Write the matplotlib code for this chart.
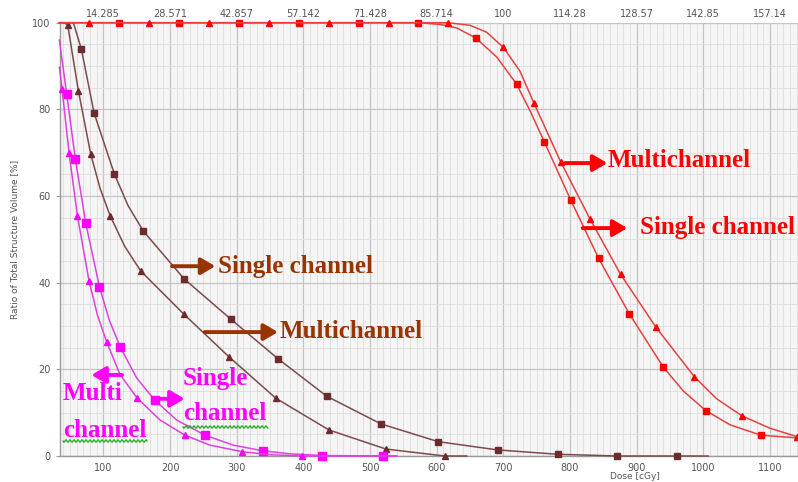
import numpy as np
import matplotlib
matplotlib.use("Agg")
import matplotlib.pyplot as plt
from matplotlib.ticker import MultipleLocator

# ---------------- data ----------------
# Red, Single channel (squares)
red_sq_x = [34, 123.5, 213.5, 303.5, 393.5, 483.5, 572, 605, 630, 658.5, 690, 720, 740, 761.5, 801, 843, 889,
            940, 970, 1003.5, 1040, 1086.5, 1140]
red_sq_y = [100, 100, 100, 100, 100, 100, 100, 99.6, 98.8, 96.5, 92.1, 85.8, 79.7, 72.5, 59.1, 45.6, 32.8,
            20.5, 15.0, 10.5, 7.2, 4.8, 4.2]
red_sq_marks = [1, 2, 3, 4, 5, 6, 9, 11, 13, 14, 15, 16, 17, 19, 21]

# Red, Multichannel (triangles)
red_tri_x = [34, 79, 168.5, 258.5, 348.5, 438.5, 528.5, 617.5, 650, 675, 700, 725, 746, 786, 830, 876,
             928.5, 986.5, 1020, 1057.5, 1100, 1140]
red_tri_y = [100, 100, 100, 100, 100, 100, 100, 100, 99.4, 97.8, 94.3, 88.8, 81.4, 67.9, 54.7, 41.9,
             29.8, 18.3, 13.2, 9.3, 6.4, 4.5]
red_tri_marks = [1, 2, 3, 4, 5, 6, 7, 10, 12, 13, 14, 15, 16, 17, 19, 21]

# Brown, Single channel (squares)
br_sq_x = [34, 55, 67, 86, 116.5, 137, 160, 221, 291, 361.5, 435, 516.5, 602.5, 691.5, 781.5, 870.5, 960, 1007]
br_sq_y = [100, 100, 93.9, 79.2, 65.1, 57.8, 51.9, 40.9, 31.6, 22.5, 13.8, 7.4, 3.3, 1.4, 0.4, 0.0, 0.0, 0.0]
br_sq_marks = [2, 3, 4, 6, 7, 8, 9, 10, 11, 12, 13, 14, 15, 16]

# Brown, Multichannel (triangles)
br_tri_x = [34, 41, 46.5, 62.5, 81, 95, 110, 132, 156, 221, 289, 359, 438.5, 524, 612, 645]
br_tri_y = [100, 100, 99.5, 84.3, 69.7, 61.8, 55.5, 48.4, 42.7, 32.7, 22.8, 13.3, 6.0, 1.6, 0.0, 0.0]
br_tri_marks = [2, 3, 4, 6, 8, 9, 10, 11, 12, 13, 14]

# Magenta, Single channel (squares)
mg_sq_x = [34, 45, 58, 73.5, 94, 109, 125.5, 150, 177, 210, 252.5, 295, 339, 380, 428.5, 519, 540]
mg_sq_y = [96, 83.5, 68.5, 53.8, 39.1, 31.3, 25.1, 18.0, 12.9, 8.3, 4.8, 2.5, 1.2, 0.5, 0.1, 0.0, 0.0]
mg_sq_marks = [1, 2, 3, 4, 6, 8, 10, 12, 14, 15]

# Magenta, Multichannel (triangles)
mg_tri_x = [34, 38, 48.5, 61, 78.5, 91, 105, 125, 150, 185, 222.5, 260, 308, 350, 398, 540]
mg_tri_y = [89.7, 84.8, 70, 55.5, 40.4, 32.6, 26.3, 18.8, 13.5, 8.3, 4.8, 2.5, 1.0, 0.3, 0.0, 0.0]
mg_tri_marks = [1, 2, 3, 4, 6, 8, 10, 12, 14]

x_ticks = [100, 200, 300, 400, 500, 600, 700, 800, 900, 1000, 1100]
top_labels = ["14.285", "28.571", "42.857", "57.142", "71.428", "85.714", "100",
              "114.28", "128.57", "142.85", "157.14"]
y_ticks = [0, 20, 40, 60, 80, 100]

# ---------------- figure ----------------
W, H = 798, 482
fig = plt.figure(figsize=(W / 100, H / 100), dpi=100)
ax = fig.add_axes([59.5 / W, 26 / H, 1 - 59.5 / W, (456 - 22.7) / H])
ax.set_facecolor("#f5f5f5")
ax.set_xlim(34.2, 1142)
ax.set_ylim(0, 100)

ax.xaxis.set_minor_locator(MultipleLocator(10))
ax.yaxis.set_minor_locator(MultipleLocator(5))
ax.set_xticks(x_ticks)
ax.set_yticks(y_ticks)
ax.grid(which="major", color="#c4c4c4", lw=0.9)
ax.grid(which="minor", color="#dedede", lw=0.6)
ax.set_axisbelow(True)

for s in ["top", "right"]:
    ax.spines[s].set_visible(False)
for s in ["left", "bottom"]:
    ax.spines[s].set_color("#9a9a9a")
    ax.spines[s].set_linewidth(1.0)

ax.tick_params(axis="both", which="major", colors="#9a9a9a", labelcolor="#555555",
               labelsize=7, length=3)
ax.tick_params(axis="x", which="major", length=0, pad=5)
ax.tick_params(which="minor", length=0)

fig.text(15 / W, 1 - 239 / H, "Ratio of Total Structure Volume [%]", fontsize=6.5,
         color="#555555", rotation=90, ha="center", va="center")
fig.text(635 / W, 1 - 476.5 / H, "Dose [cGy]", fontsize=6.5, color="#555555",
         ha="center", va="center")

# top axis
ax2 = ax.twiny()
ax2.set_xlim(ax.get_xlim())
ax2.set_xticks(x_ticks)
ax2.set_xticklabels(top_labels)
ax2.tick_params(axis="x", length=0, labelsize=7, labelcolor="#555555", pad=3)
for s in ax2.spines.values():
    s.set_visible(False)

# ---------------- curves ----------------
def draw(xs, ys, marks, lc, mc, marker, ms, z):
    ax.plot(xs, ys, color=lc, lw=1.1, marker=marker, markevery=marks, ms=ms,
            mfc=mc, mec=mc, clip_on=False, zorder=z)

draw(br_sq_x, br_sq_y, br_sq_marks, "#7d4a4a", "#6a2c2c", "s", 5.0, 3)
draw(br_tri_x, br_tri_y, br_tri_marks, "#7d4a4a", "#6a2c2c", "^", 4.2, 3)
draw(mg_sq_x, mg_sq_y, mg_sq_marks, "#e040e0", "#ff00ff", "s", 5.5, 4)
draw(mg_tri_x, mg_tri_y, mg_tri_marks, "#e040e0", "#ff00ff", "^", 4.5, 4)
draw(red_sq_x, red_sq_y, red_sq_marks, "#e84040", "#ff0000", "s", 5.0, 5)
draw(red_tri_x, red_tri_y, red_tri_marks, "#e84040", "#ff0000", "^", 4.5, 5)

# ---------------- annotations ----------------
tfont = dict(family="Liberation Serif", weight="bold", size=18, va="center", ha="left")

def arrow(x0, y0, x1, y1, c):
    ax.annotate("", xy=(x1, y1), xytext=(x0, y0),
                arrowprops=dict(arrowstyle="-|>,head_length=0.65,head_width=0.38",
                                lw=2.8, color=c, shrinkA=0, shrinkB=0, mutation_scale=13),
                zorder=6)

RED = "#ff0000"
BRN = "#993300"
MAG = "#ff00ff"

ax.text(857, 68.3, "Multichannel", color=RED, **tfont)
arrow(792, 67.6, 856, 67.6, RED)
ax.text(905, 52.8, "Single channel", color=RED, **tfont)
arrow(819, 52.6, 886, 52.6, RED)

ax.text(272, 43.8, "Single channel", color=BRN, **tfont)
arrow(203, 43.8, 268, 43.8, BRN)
ax.text(365, 28.8, "Multichannel", color=BRN, **tfont)
arrow(252, 28.6, 362, 28.6, BRN)

ax.text(39.5, 14.5, "Multi", color=MAG, **tfont)
ax.text(39.5, 6.0, "channel", color=MAG, **tfont)
arrow(128, 18.7, 82, 18.7, MAG)
ax.text(219.5, 18.0, "Single", color=MAG, **tfont)
ax.text(219.5, 9.9, "channel", color=MAG, **tfont)
arrow(176, 13.2, 222, 13.2, MAG)

# spell-check squiggles under the magenta "channel" words (figure pixel coords)
def squiggle(x0, x1, y):
    xs = np.linspace(x0, x1, int((x1 - x0) * 2))
    ys = y + 1.2 * np.sin((xs - x0) * 2 * np.pi / 4.0)
    fig.add_artist(plt.Line2D(xs / W, (H - ys) / H, color="#22aa22", lw=0.9,
                              transform=fig.transFigure))

squiggle(63, 147, 441)
squiggle(183, 268, 427)

fig.savefig("out.png", dpi=100)
